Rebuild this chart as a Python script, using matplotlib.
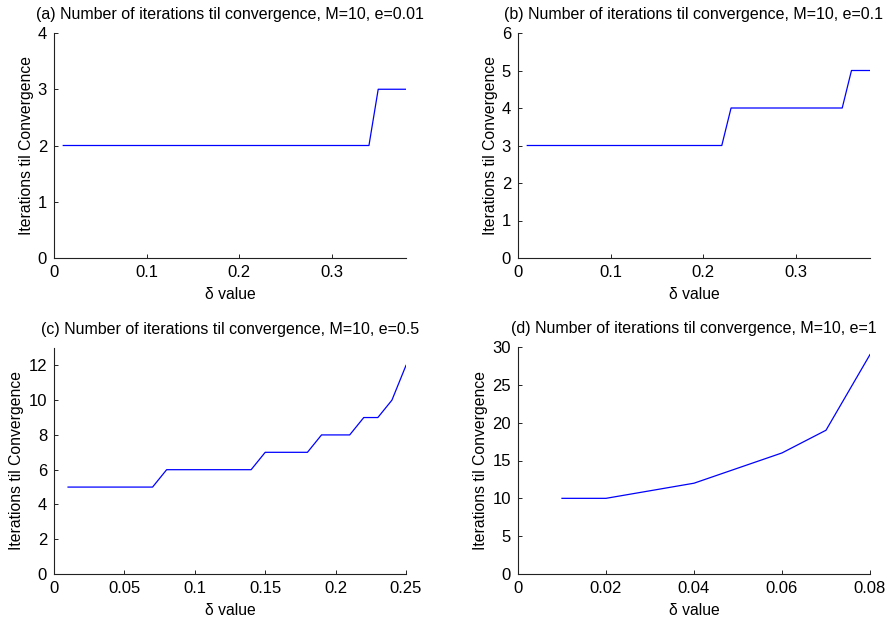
import matplotlib.pyplot as plt
import numpy as np

plt.rcParams['font.family'] = ['Liberation Sans', 'DejaVu Sans']

# delta values and iteration counts for each panel
delta_ab = np.round(np.arange(1, 39) * 0.01, 2)
iters_a = [2] * 34 + [3] * 4
iters_b = [3] * 22 + [4] * 13 + [5] * 3

delta_c = np.round(np.arange(1, 26) * 0.01, 2)
iters_c = [5] * 7 + [6] * 7 + [7] * 4 + [8] * 3 + [9] * 2 + [10, 12]

delta_d = [0.01, 0.02, 0.03, 0.04, 0.05, 0.06, 0.07, 0.08]
iters_d = [10, 10, 11, 12, 14, 16, 19, 29]

titles = [
    "(a) Number of iterations til convergence, M=10, e=0.01",
    "(b) Number of iterations til convergence, M=10, e=0.1",
    "(c) Number of iterations til convergence, M=10, e=0.5",
    "(d) Number of iterations til convergence, M=10, e=1",
]

W, H = 886, 619
fig = plt.figure(figsize=(W / 100, H / 100), dpi=100)

def box(l, t, r, b):
    return [l / W, 1 - b / H, (r - l) / W, (b - t) / H]

panels = [
    (box(54, 33, 406, 258), delta_ab, iters_a, (0, 0.38), (0, 4),
     [0, 0.1, 0.2, 0.3], ["0", "0.1", "0.2", "0.3"], range(0, 5)),
    (box(518, 33, 870, 258), delta_ab, iters_b, (0, 0.38), (0, 6),
     [0, 0.1, 0.2, 0.3], ["0", "0.1", "0.2", "0.3"], range(0, 7)),
    (box(54, 348, 406, 574), delta_c, iters_c, (0, 0.25), (0, 13),
     [0, 0.05, 0.1, 0.15, 0.2, 0.25], ["0", "0.05", "0.1", "0.15", "0.2", "0.25"], range(0, 13, 2)),
    (box(518, 347, 870, 574), delta_d, iters_d, (0, 0.08), (0, 30),
     [0, 0.02, 0.04, 0.06, 0.08], ["0", "0.02", "0.04", "0.06", "0.08"], range(0, 31, 5)),
]

for (pos, x, y, xl, yl, xt, xtl, yt), title in zip(panels, titles):
    ax = fig.add_axes(pos)
    ax.plot(x, y, color=(0, 0, 1), lw=0.9)
    ax.set_xlim(*xl)
    ax.set_ylim(*yl)
    ax.set_xticks(xt)
    ax.set_xticklabels(xtl)
    ax.set_yticks(list(yt))
    ax.spines['top'].set_visible(False)
    ax.spines['right'].set_visible(False)
    for s in ['left', 'bottom']:
        ax.spines[s].set_linewidth(0.8)
        ax.spines[s].set_color('#222222')
    ax.tick_params(direction='in', length=3, width=0.6, labelsize=12, pad=5)
    ax.set_title(title, fontsize=11.5, pad=10)
    ax.set_xlabel("\u03b4 value", fontsize=11.3, labelpad=5)
    ax.set_ylabel("Iterations til Convergence", fontsize=11.3, labelpad=3)

fig.savefig("out.png", dpi=100)
